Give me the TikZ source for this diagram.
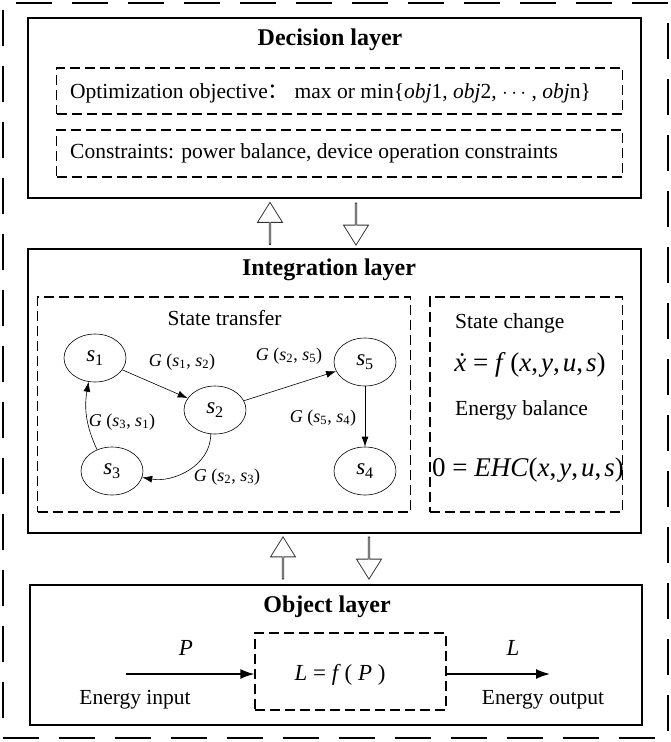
\documentclass[tikz,border=0pt]{standalone}
\usepackage{fontspec}
\setmainfont{Liberation Serif}
\newfontfamily\cjk{Noto Sans CJK SC}
\usetikzlibrary{arrows.meta, positioning, shapes.geometric, shapes.arrows}

\begin{document}
\begin{tikzpicture}[
    x=1pt, y=-1pt,
    lapisan/.style={draw, line width=1.4pt, inner sep=0pt},
    luar/.style={draw, line width=1.8pt, dash pattern=on 36pt off 20pt, inner sep=0pt},
    putus/.style={draw, line width=1.2pt, dash pattern=on 10pt off 5pt, inner sep=0pt},
    judul/.style={font=\fontsize{24}{28}\selectfont\bfseries},
    teks/.style={font=\fontsize{21.5}{25}\selectfont, inner sep=0pt},
    rumus/.style={font=\fontsize{27}{31}\selectfont, inner sep=0pt},
    keadaan/.style={draw, ellipse, line width=0.6pt, minimum width=62pt, minimum height=48pt,
                    inner sep=0pt, font=\fontsize{23}{27}\selectfont},
    ket/.style={font=\fontsize{18}{22}\selectfont, inner sep=0pt},
    panah/.style={-{Latex[length=10pt, width=7pt]}, line width=0.6pt},
    panahtebal/.style={-{Latex[length=14pt, width=10pt]}, line width=1.6pt},
    blok/.style={draw=black!80, single arrow, line width=0.8pt, minimum height=42pt, minimum width=25pt,
                 single arrow head extend=6pt, single arrow tip angle=64, inner sep=0pt}
  ]
    \useasboundingbox (0,0) rectangle (671,742);
    \node[luar, minimum width=665pt, minimum height=735pt] (bingkai) at (335.5,370.5) {};

    % lapisan keputusan
    \node[lapisan, minimum width=613pt, minimum height=180pt] (keputusan) at (334.5,108) {};
    \node[judul] (judulkep) at (330,40) {Decision layer};
    \node[putus, minimum width=566pt, minimum height=46pt] (tujuan) at (339.5,91) {};
    \node[teks, anchor=west] (tekstujuan) at (70,93)
      {Optimization objective{\cjk ：} max or min\{\textit{obj}1, \textit{obj}2, $\cdots$ , \textit{obj}n\}};
    \node[putus, minimum width=566pt, minimum height=47pt] (kendala) at (339.5,153.5) {};
    \node[teks, anchor=west] (tekskendala) at (70,153)
      {Constraints: power balance, device operation constraints};

    \node[blok, rotate=90] (naik1) at (270,224) {};
    \node[blok, rotate=-90] (turun1) at (356,223.5) {};

    % lapisan integrasi
    \node[lapisan, minimum width=613pt, minimum height=284pt] (integrasi) at (334.5,391) {};
    \node[judul] (judulint) at (329,270) {Integration layer};
    \node[putus, minimum width=373pt, minimum height=215pt] (transfer) at (224.25,404.5) {};
    \node[putus, minimum width=192.6pt, minimum height=215pt] (perubahan) at (526.3,404.5) {};
    \node[teks] (judultransfer) at (224.6,318) {State transfer};

    \node[keadaan] (s1) at (95,358) {\textit{s}\textsubscript{1}};
    \node[keadaan] (s2) at (215,410) {\textit{s}\textsubscript{2}};
    \node[keadaan] (s3) at (112,471) {\textit{s}\textsubscript{3}};
    \node[keadaan] (s5) at (365,362) {\textit{s}\textsubscript{5}};
    \node[keadaan] (s4) at (365,471) {\textit{s}\textsubscript{4}};

    \draw[panah] (s1) -- (s2);
    \draw[panah] (s2) -- (s5);
    \draw[panah] (s5) -- (s4);
    \draw[panah] (s2.-100) to[out=-90, in=-10] (s3.-12);
    \draw[panah] (s3.125) to[out=115, in=-100] (s1.-105);

    \node[ket] (g12) at (182,362) {\textit{G} (\textit{s}\textsubscript{1}, \textit{s}\textsubscript{2})};
    \node[ket] (g25) at (289,356) {\textit{G} (\textit{s}\textsubscript{2}, \textit{s}\textsubscript{5})};
    \node[ket] (g54) at (323,418) {\textit{G} (\textit{s}\textsubscript{5}, \textit{s}\textsubscript{4})};
    \node[ket] (g23) at (227,477) {\textit{G} (\textit{s}\textsubscript{2}, \textit{s}\textsubscript{3})};
    \node[ket] (g31) at (122,422) {\textit{G} (\textit{s}\textsubscript{3}, \textit{s}\textsubscript{1})};

    \node[teks, anchor=west] (ubah) at (455,323) {State change};
    \node[rumus] (rumusubah) at (530,365)
      {\textit{\.x} = \textit{f}\,(\textit{x},\hspace{3pt}\textit{y},\hspace{3pt}\textit{u},\hspace{3pt}\textit{s})};
    \node[teks, anchor=west] (imbang) at (455,410) {Energy balance};
    \node[rumus] (rumusimbang) at (528,470)
      {0 = \textit{EHC}(\textit{x},\hspace{3pt}\textit{y},\hspace{3pt}\textit{u},\hspace{3pt}\textit{s})};

    \node[blok, rotate=90] (naik2) at (283,558.5) {};
    \node[blok, rotate=-90] (turun2) at (369,557.5) {};

    % lapisan objek
    \node[lapisan, minimum width=612pt, minimum height=140pt] (objek) at (336,655) {};
    \node[judul] (judulobj) at (327,607) {Object layer};
    \node[putus, minimum width=191pt, minimum height=77pt] (fungsi) at (350.5,671.5) {};
    \node[rumus, font=\fontsize{23}{27}\selectfont] (tekfungsi) at (340,675)
      {\textit{L} = \textit{f}\,( \textit{P} )};
    \coordinate (masuk) at (126,674);
    \coordinate (keluar) at (550,674);
    \draw[panahtebal] (masuk) -- (masuk -| fungsi.west);
    \draw[panahtebal] (keluar -| fungsi.east) -- (keluar);
    \node[ket, font=\fontsize{23}{27}\selectfont] (hurufp) at (186,648) {\textit{P}};
    \node[ket, font=\fontsize{23}{27}\selectfont] (hurufl) at (513,648) {\textit{L}};
    \node[teks] (masukan) at (135,700) {Energy input};
    \node[teks] (keluaran) at (543,700) {Energy output};
  \end{tikzpicture}
\end{document}
